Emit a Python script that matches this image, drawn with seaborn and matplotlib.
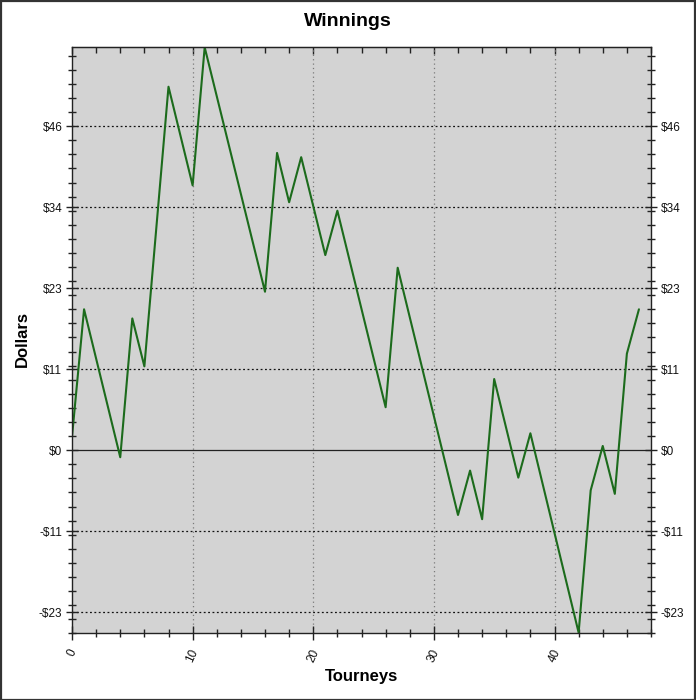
import matplotlib
matplotlib.use("Agg")
import matplotlib.pyplot as plt
import seaborn as sns
import pandas as pd
from matplotlib.patches import Rectangle

# ---- data ----
tourney = [0, 1, 4, 5, 6, 8, 10, 11, 16, 17, 18, 19, 21, 22, 26, 27,
           32, 33, 34, 35, 37, 38, 42, 43, 44, 45, 46, 47]
dollars = [1.9, 20.0, -1.0, 18.7, 11.9, 51.6, 37.6, 57.2, 22.5, 42.2, 35.2, 41.6,
           27.7, 34.0, 6.1, 25.9, -9.2, -2.9, -9.8, 10.1, -3.9, 2.4, -25.9,
           -5.7, 0.6, -6.2, 13.7, 20.0]

ytick_vals = [-23, -11.5, 0, 11.5, 23, 34.5, 46]
ytick_labels = ['-$23', '-$11', '$0', '$11', '$23', '$34', '$46']
xtick_vals = [0, 10, 20, 30, 40]
xtick_labels = ['0', '10', '20', '30', '40']

title = "Winnings"
xlabel = "Tourneys"
ylabel = "Dollars"

df = pd.DataFrame({"Tourneys": tourney, "Dollars": dollars})

sns.set_style("ticks")
plt.rcParams['font.family'] = ['Liberation Sans', 'DejaVu Sans']
plt.rcParams['text.color'] = 'black'
plt.rcParams['xtick.color'] = '#222222'
plt.rcParams['ytick.color'] = '#222222'
plt.rcParams['xtick.labelcolor'] = '#111111'
plt.rcParams['ytick.labelcolor'] = '#111111'

W, H = 696, 700
fig = plt.figure(figsize=(W / 100, H / 100), dpi=100)
fig.patch.set_facecolor('white')

left, right, top, bottom = 72, 651, 47.3, 633.3
ax = fig.add_axes([left / W, 1 - bottom / H, (right - left) / W, (bottom - top) / H])
ax.set_facecolor('#d3d3d3')

sns.lineplot(data=df, x="Tourneys", y="Dollars", color='#1c6b1c', linewidth=1.5, ax=ax)

ax.set_xlim(0, 48)
ax.set_ylim(min(dollars), max(dollars))

# grids
for xv in xtick_vals[1:]:
    ax.axvline(xv, color='#7a7a7a', linestyle=(0, (1, 2.5)), linewidth=0.9, zorder=0.5)
for yv in ytick_vals:
    if yv == 0:
        ax.axhline(0, color='#222222', linewidth=0.9, zorder=0.5)
    else:
        ax.axhline(yv, color='#111111', linestyle=(0, (1.5, 2)), linewidth=0.9, zorder=0.5)

# ticks
ax.set_xticks(xtick_vals)
ax.set_xticklabels(xtick_labels, rotation=65, ha='center', va='top', fontsize=8.5)
ax.set_xticks(range(0, 49, 2), minor=True)
ax.set_yticks(ytick_vals)
ax.set_yticklabels(ytick_labels, fontsize=8.5)
ax.set_yticks(range(-26, 58, 2), minor=True)

ax.tick_params(axis='x', which='major', direction='inout', length=10, width=1, pad=5)
ax.tick_params(axis='x', which='minor', direction='inout', length=6, width=1)
ax.tick_params(axis='y', which='major', direction='inout', length=9, width=1, pad=2.5,
               left=True, right=True, labelleft=True, labelright=True)
ax.tick_params(axis='y', which='minor', direction='inout', length=6, width=1,
               left=True, right=True)

sec = ax.secondary_xaxis('top')
sec.set_xticks(xtick_vals)
sec.set_xticks(range(0, 49, 2), minor=True)
sec.tick_params(axis='x', which='major', direction='in', length=5, width=1, labeltop=False)
sec.tick_params(axis='x', which='minor', direction='in', length=4, width=1)
sec.spines['top'].set_color('#222')

for s in ax.spines.values():
    s.set_visible(True)
    s.set_color('#222')
    s.set_linewidth(1)

ax.set_xlabel("")
ax.set_ylabel("")

fig.text(0.5, 1 - 22 / H, title, ha='center', va='center', fontsize=14, fontweight='bold')
fig.text((left + right) / 2 / W, 1 - 677 / H, xlabel, ha='center', va='center',
         fontsize=12, fontweight='bold')
fig.text(22 / W, 1 - 339 / H, ylabel, ha='center', va='center', rotation=90,
         fontsize=12, fontweight='bold')

fig.patches.append(Rectangle((0.5 / W, 0.5 / H), 1 - 1.5 / W, 1 - 1.5 / H, transform=fig.transFigure,
                             fill=False, edgecolor='#333333', linewidth=1.6))

fig.savefig("out.png", dpi=100)
